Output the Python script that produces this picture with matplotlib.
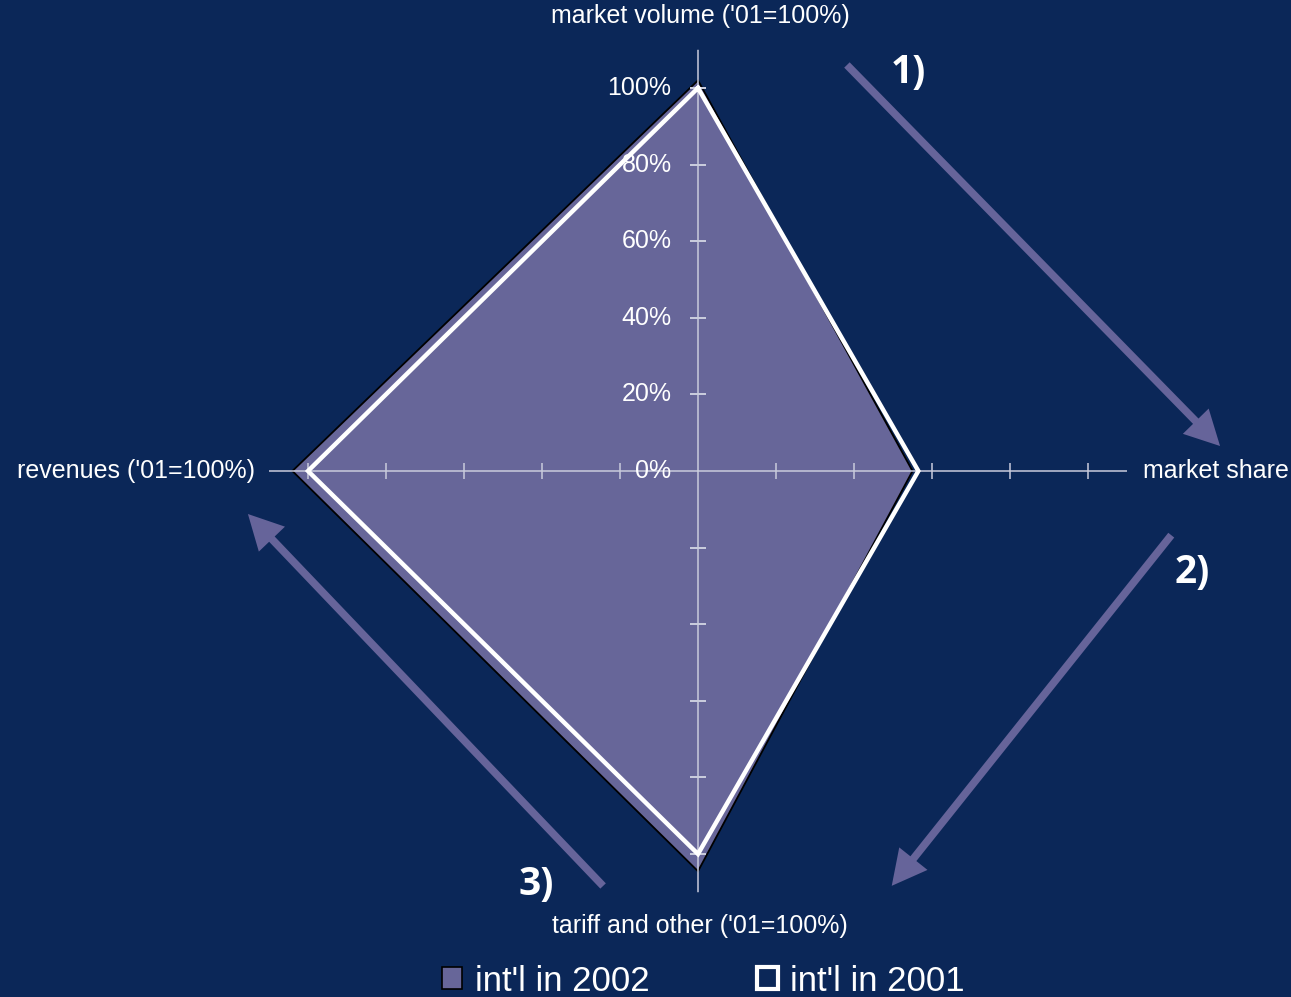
import numpy as np
import matplotlib
matplotlib.use("Agg")
import matplotlib.pyplot as plt
from matplotlib.patches import Patch

# data (1.0 = 100%)
categories = ["market volume ('01=100%)", "market share",
              "tariff and other ('01=100%)", "revenues ('01=100%)"]
intl_2002 = [1.02, 0.55, 1.045, 1.04]
intl_2001 = [1.00, 0.565, 1.00, 1.00]
tick_vals = [0.0, 0.2, 0.4, 0.6, 0.8, 1.0]
tick_labels = ["0%", "20%", "40%", "60%", "80%", "100%"]
steps = ["1)", "2)", "3)"]

bg = "#0b2758"
fill_col = "#676699"
arrow_col = "#66649a"
axis_col = "#c9cbdc"

plt.rcParams['font.family'] = ['Liberation Sans', 'DejaVu Sans']

W, H = 1291, 997
fig = plt.figure(figsize=(W / 100, H / 100), dpi=100, facecolor=bg)

rmax = 1.10
cx, cy = 698, 471
rx, ry = 390, 383   # pixels per 100% (the original is slightly stretched)
ax = fig.add_axes([(cx - rmax * rx) / W, (H - cy - rmax * ry) / H,
                   2 * rmax * rx / W, 2 * rmax * ry / H], projection='polar')
ax.set_aspect('auto')
ax.set_facecolor('none')
ax.set_theta_offset(np.pi / 2)
ax.set_theta_direction(-1)
ax.set_ylim(0, rmax)
ax.grid(False)
ax.set_xticks([])
ax.set_yticks([])
ax.spines['polar'].set_visible(False)

theta = np.arange(len(categories)) * 2 * np.pi / len(categories)
th = np.append(theta, theta[0])

# series
v02 = np.append(intl_2002, intl_2002[0])
v01 = np.append(intl_2001, intl_2001[0])
ax.fill(th, v02, facecolor=fill_col, edgecolor='black', lw=1.3, zorder=2)

# axis lines and ticks
for i, t in enumerate(theta):
    ax.plot([t, t], [0, rmax], color=axis_col, lw=1.1, zorder=3)
    mk = '_' if i % 2 == 0 else '|'
    ax.plot([t] * (len(tick_vals) - 1), tick_vals[1:], ls='none', marker=mk,
            ms=12, mew=1.1, color=axis_col, zorder=3)

ax.plot(th, v01, color='white', lw=3.2, zorder=4, solid_joinstyle='miter')

for v, lab in zip(tick_vals, tick_labels):
    ax.annotate(lab, (theta[0], v), xytext=(-19, 0), textcoords='offset points',
                ha='right', va='center', color='white', fontsize=18, zorder=5)

# category labels
fig.text(700 / W, 1 - 16 / H, categories[0], ha='center', va='center',
         color='white', fontsize=18)
fig.text(1143 / W, 1 - 471 / H, categories[1], ha='left', va='center',
         color='white', fontsize=18)
fig.text(700 / W, 1 - 926 / H, categories[2], ha='center', va='center',
         color='white', fontsize=18)
fig.text(255 / W, 1 - 471 / H, categories[3], ha='right', va='center',
         color='white', fontsize=18)

# process arrows
arrows = [((845, 63), (1222, 448)), ((1173, 533), (890, 888)), ((605, 888), (246, 512))]
for (x0, y0), (x1, y1) in arrows:
    fig.add_artist(matplotlib.patches.FancyArrowPatch(
        (x0, H - y0), (x1, H - y1), transform=None,
        arrowstyle='simple,head_length=2.5,head_width=2.6,tail_width=0.55',
        mutation_scale=10, color=arrow_col, lw=0))

for s, (x, y) in zip(steps, [(908, 72), (1192, 572), (536, 884)]):
    fig.text(x / W, 1 - y / H, s, ha='center', va='center', color='white',
             fontsize=28, fontweight='bold', family='Open Sans')

handles = [Patch(facecolor=fill_col, edgecolor='black', lw=1.2),
           Patch(facecolor='none', edgecolor='white', lw=3)]
leg = fig.legend(handles, ["int'l in 2002", "int'l in 2001"], loc='center',
                 bbox_to_anchor=(703 / W, 1 - 981 / H), ncol=2, frameon=False,
                 fontsize=25, labelcolor='white', handlelength=0.6,
                 handleheight=0.6, handletextpad=0.35, columnspacing=3.1)

fig.savefig("out.png", dpi=100, facecolor=bg)
